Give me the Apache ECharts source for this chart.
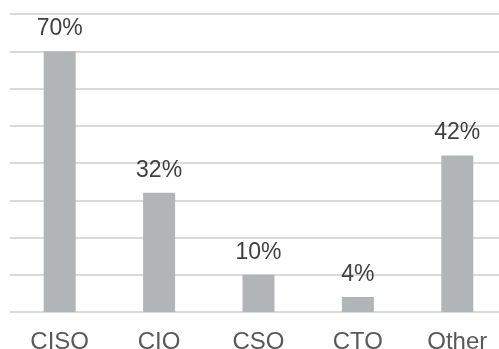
<!DOCTYPE html>
<html lang="en">
<head>
    <meta charset="UTF-8">
    <title>Role chart</title>
    <script src="https://cdn.jsdelivr.net/npm/echarts@6/dist/echarts.min.js"></script>
    <style>
        html, body { margin: 0; padding: 0; background: #fff; }
        #chart { width: 499px; height: 349px; }
    </style>
</head>
<body>
    <div id="chart"></div>
    <script>
        const roles = ['CISO', 'CIO', 'CSO', 'CTO', 'Other'];
        const shares = [70, 32, 10, 4, 42];

        const chart = echarts.init(document.getElementById('chart'));

        chart.setOption({
            animation: false,
            textStyle: { fontFamily: 'Liberation Sans, Arial, sans-serif' },
            // plot runs a bit past the right edge, like the original
            grid: { left: 10, width: 497, top: 14, bottom: 37, outerBoundsMode: 'none' },
            xAxis: {
                type: 'category',
                data: roles,
                axisLine: { show: false },
                axisTick: { show: false },
                axisLabel: { color: '#595959', fontSize: 24, margin: 18 }
            },
            yAxis: {
                type: 'value',
                min: 0,
                max: 80,
                interval: 10,
                axisLabel: { show: false },
                axisLine: { show: false },
                axisTick: { show: false },
                splitLine: { lineStyle: { color: '#dadada', width: 2 } }
            },
            series: [{
                type: 'bar',
                data: shares,
                barWidth: 32,
                itemStyle: { color: '#b1b5b7' },
                label: {
                    show: true,
                    position: 'top',
                    distance: 11,
                    color: '#404040',
                    fontSize: 23,
                    formatter: '{c}%'
                }
            }]
        });
    </script>
</body>
</html>
